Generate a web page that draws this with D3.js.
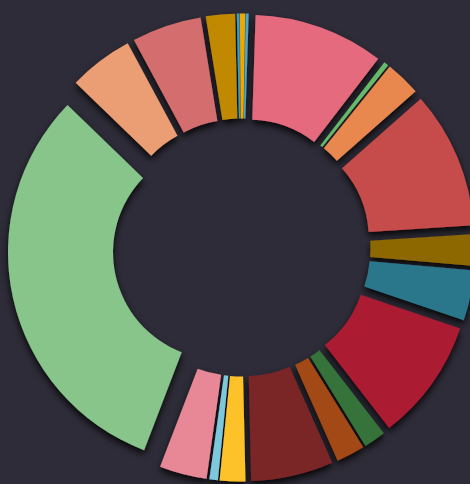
<!DOCTYPE html>
<html>
<head>
<meta charset="utf-8">
<script src="https://cdn.jsdelivr.net/npm/d3@7"></script>
<style>
  html, body { margin: 0; padding: 0; background: #2e2c38; }
  svg { display: block; }
</style>
</head>
<body>
<svg id="chart" width="470" height="484"></svg>
<script>
// Categories (clockwise, starting just right of 12 o'clock)
const categories = [
  "A", "B", "C", "D", "E", "F", "G", "H", "I", "J",
  "K", "L", "M", "N", "O", "P", "Q", "R", "S", "T"
];
// Share of total (%)
const values = [
  9.94, 0.36, 2.69, 10.47, 2.42, 3.83, 9.31, 1.67, 2.17, 6.28,
  1.94, 0.64, 3.61, 31.39, 4.92, 5.31, 2.22, 0.20, 0.40, 0.23
];
const colors = [
  "#e56b7e", "#66bb6a", "#e8884f", "#c64b4b", "#8d6800", "#2b778b",
  "#ab1b33", "#36733a", "#a34817", "#7a2527", "#fdc12b", "#7ec8dc",
  "#e88896", "#87c58a", "#eb9d73", "#d46d6d", "#c08900", "#3a9fc4",
  "#f0a800", "#4aa6cc"
];

const width = 470, height = 484;
const cx = 241.5, cy = 247.5;
const innerR = 107, outerR = 212, explode = 22;
const start = 1.8 * Math.PI / 180;

const svg = d3.select("#chart");
const defs = svg.append("defs");
const f = defs.append("filter").attr("id", "shadow")
  .attr("x", "-20%").attr("y", "-20%").attr("width", "140%").attr("height", "140%");
f.append("feDropShadow").attr("dx", 0).attr("dy", 4)
  .attr("stdDeviation", 3.5).attr("flood-color", "#000").attr("flood-opacity", 0.85);

const data = categories.map((c, i) => ({ name: c, value: values[i], color: colors[i] }));
const pie = d3.pie().sort(null).value(d => d.value)
  .startAngle(start).endAngle(start + 2 * Math.PI);
const arc = d3.arc().innerRadius(innerR).outerRadius(outerR);

const g = svg.append("g").attr("filter", "url(#shadow)");
g.selectAll("path")
  .data(pie(data))
  .join("path")
  .attr("d", arc)
  .attr("fill", d => d.data.color)
  .attr("transform", d => {
    const a = (d.startAngle + d.endAngle) / 2;
    return `translate(${cx + explode * Math.sin(a)},${cy - explode * Math.cos(a)})`;
  });
</script>
</body>
</html>
